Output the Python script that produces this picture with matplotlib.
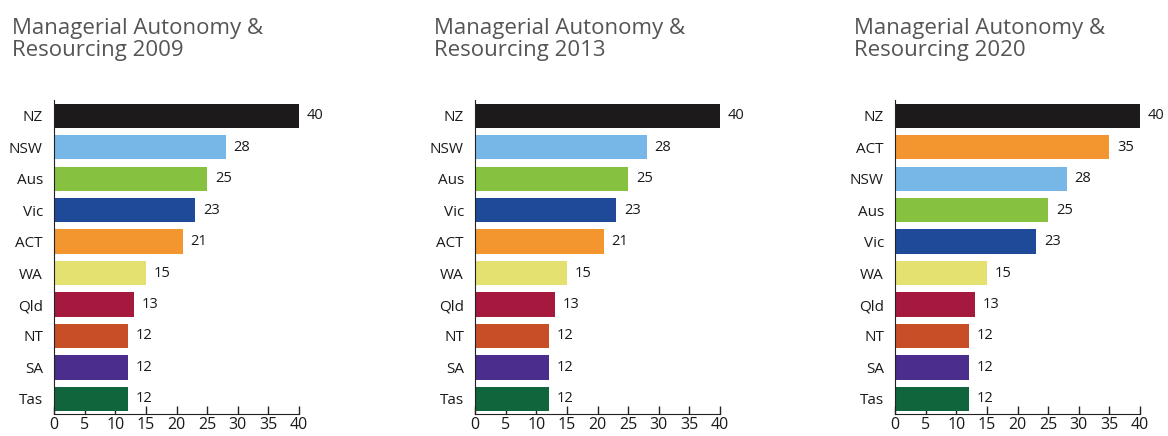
import matplotlib.pyplot as plt

TITLE_COLOR = "#555555"
TEXT_COLOR = "#1a1a1a"

STATE_COLORS = {
    "NZ": "#1c1a1b",
    "NSW": "#76b7e8",
    "Aus": "#86c240",
    "Vic": "#1f4a9a",
    "ACT": "#f3962f",
    "WA": "#e4e171",
    "Qld": "#a5193f",
    "NT": "#c84e28",
    "SA": "#4a2d8c",
    "Tas": "#11653d",
}

years = ["2009", "2013", "2020"]

labels_2009 = ["NZ", "NSW", "Aus", "Vic", "ACT", "WA", "Qld", "NT", "SA", "Tas"]
values_2009 = [40, 28, 25, 23, 21, 15, 13, 12, 12, 12]

labels_2013 = ["NZ", "NSW", "Aus", "Vic", "ACT", "WA", "Qld", "NT", "SA", "Tas"]
values_2013 = [40, 28, 25, 23, 21, 15, 13, 12, 12, 12]

labels_2020 = ["NZ", "ACT", "NSW", "Aus", "Vic", "WA", "Qld", "NT", "SA", "Tas"]
values_2020 = [40, 35, 28, 25, 23, 15, 13, 12, 12, 12]

x_ticks = [0, 5, 10, 15, 20, 25, 30, 35, 40]

panels = [
    (labels_2009, values_2009),
    (labels_2013, values_2013),
    (labels_2020, values_2020),
]

fig = plt.figure(figsize=(11.68, 4.36), dpi=100)
fig.patch.set_facecolor("white")

lefts = [54 / 1168, 475 / 1168, 895 / 1168]
title_x = [12 / 1168, 434 / 1168, 854 / 1168]
ax_width = 245 / 1168
ax_bottom = 1 - 414 / 436
ax_height = (414 - 100) / 436

for i, (labels, values) in enumerate(panels):
    ax = fig.add_axes([lefts[i], ax_bottom, ax_width, ax_height])
    pos = list(range(len(labels)))
    colors = [STATE_COLORS[l] for l in labels]
    ax.barh(pos, values, height=0.77, color=colors, zorder=2)
    for p, v in zip(pos, values):
        ax.text(v + 1.3, p, str(v), va="center", ha="left", fontsize=10.5,
                color=TEXT_COLOR, family="Open Sans")
    ax.set_yticks(pos)
    ax.set_yticklabels(labels, fontsize=11, color=TEXT_COLOR, family="Open Sans",
                       fontweight="medium")
    ax.tick_params(axis="y", length=0, pad=8)
    ax.set_ylim(9.48, -0.5)
    ax.set_xlim(0, 40)
    ax.set_xticks(x_ticks)
    ax.set_xticklabels([str(t) for t in x_ticks], fontsize=11.5, color=TEXT_COLOR,
                       family="Open Sans")
    ax.tick_params(axis="x", direction="in", length=6, width=1, color="#222222", pad=2)
    for side in ["top", "right"]:
        ax.spines[side].set_visible(False)
    ax.spines["left"].set_color("#222222")
    ax.spines["bottom"].set_color("#222222")
    ax.set_facecolor("white")

    fig.text(title_x[i], 1 - 18 / 436, f"Managerial Autonomy &\nResourcing {years[i]}",
             ha="left", va="top", fontsize=16, color=TITLE_COLOR,
             family="Open Sans", linespacing=1.08)

fig.savefig("out.png", dpi=100, facecolor="white")
